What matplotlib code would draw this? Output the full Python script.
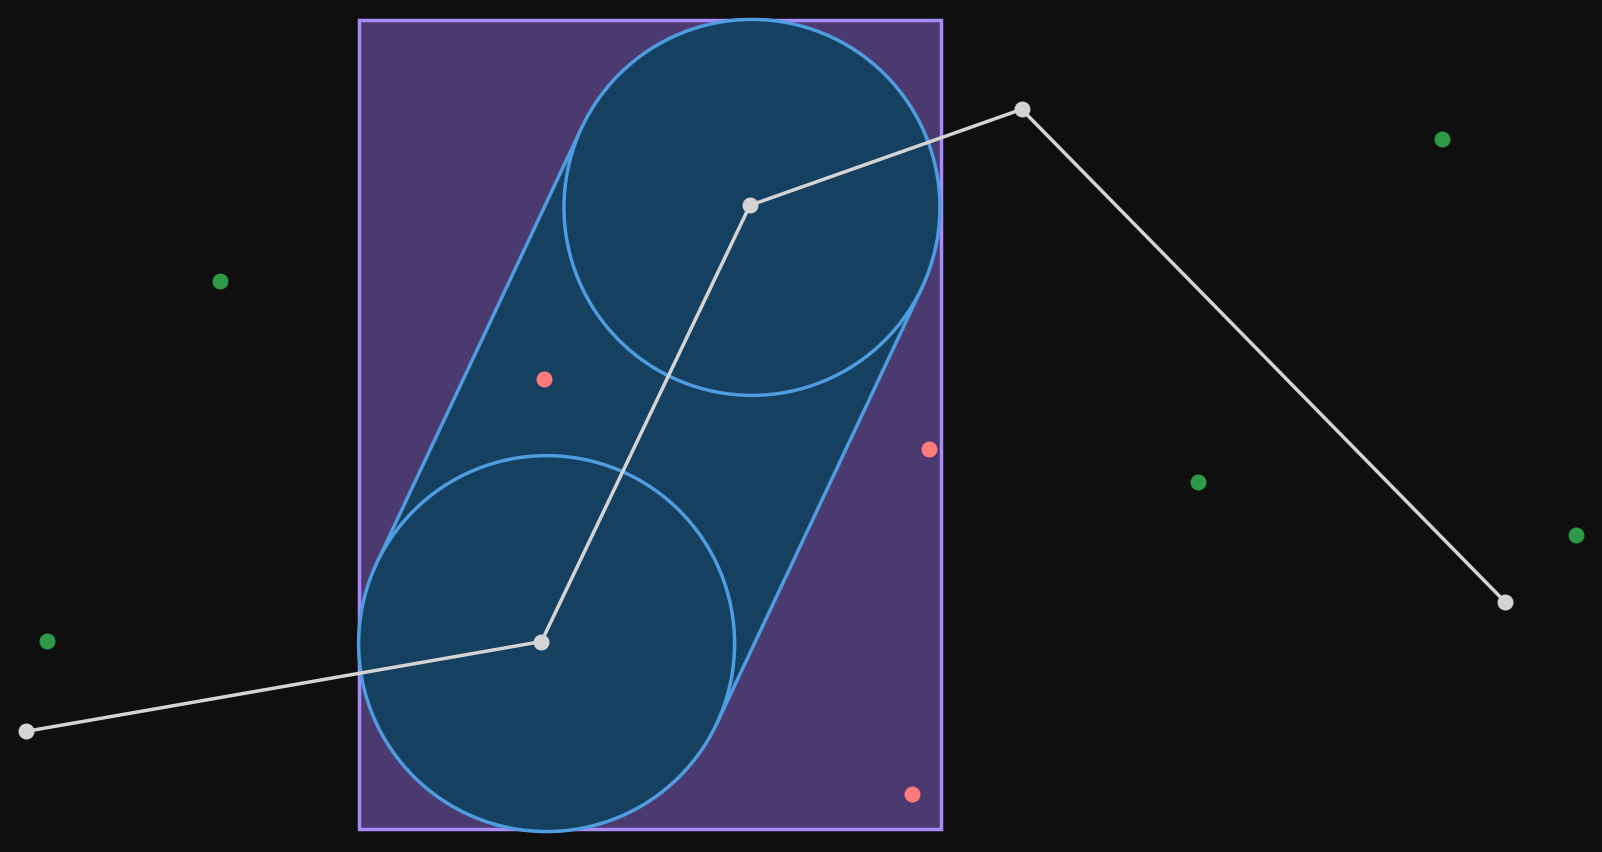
import matplotlib.pyplot as plt
import numpy as np
from matplotlib.patches import Rectangle, Circle, Polygon

# scene coordinates (pixels of a 1568x834 canvas, y down)
path_x = [25, 530, 734, 1000, 1473]
path_y = [716, 628, 201, 107, 589]
red_x = [532, 909, 893]
red_y = [371, 440, 777]
green_x = [215, 46, 1411, 1173, 1543]
green_y = [275, 627, 136, 472, 524]
circle_centers = [(535, 630), (736, 203)]
radius = 184
box = (351, 20, 921, 811)

fig = plt.figure(figsize=(16.02, 8.52), dpi=100, facecolor='#0f0f0f')
ax = fig.add_axes([0, 0, 1, 1])
ax.set_facecolor('#0f0f0f')
ax.set_xlim(0, 1568)
ax.set_ylim(834, 0)
ax.axis('off')

ax.add_patch(Rectangle((box[0], box[1]), box[2] - box[0], box[3] - box[1],
                       facecolor='#4a3a6f', edgecolor='#a78bfa', lw=2.5, zorder=1))

c1 = np.array(circle_centers[0], float)
c2 = np.array(circle_centers[1], float)
d = (c2 - c1) / np.linalg.norm(c2 - c1)
n = np.array([-d[1], d[0]]) * radius
ax.add_patch(Polygon([c1 + n, c2 + n, c2 - n, c1 - n], closed=True,
                     facecolor='#16405f', edgecolor='none', zorder=2))
for a, b in [(c1 + n, c2 + n), (c1 - n, c2 - n)]:
    ax.plot([a[0], b[0]], [a[1], b[1]], color='#4f9de0', lw=2.5, zorder=3)
for c in circle_centers:
    ax.add_patch(Circle(c, radius, facecolor='#16405f', edgecolor='#4f9de0', lw=2.5, zorder=3))

ax.plot(path_x, path_y, color='#d4d4d4', lw=2.5, zorder=4)
ax.scatter(path_x, path_y, s=110, color='#d4d4d4', zorder=5)
ax.scatter(red_x, red_y, s=110, color='#ff7b7b', zorder=5)
ax.scatter(green_x, green_y, s=110, color='#2e9a48', zorder=5)

fig.savefig('out.png', dpi=100, facecolor=fig.get_facecolor())
